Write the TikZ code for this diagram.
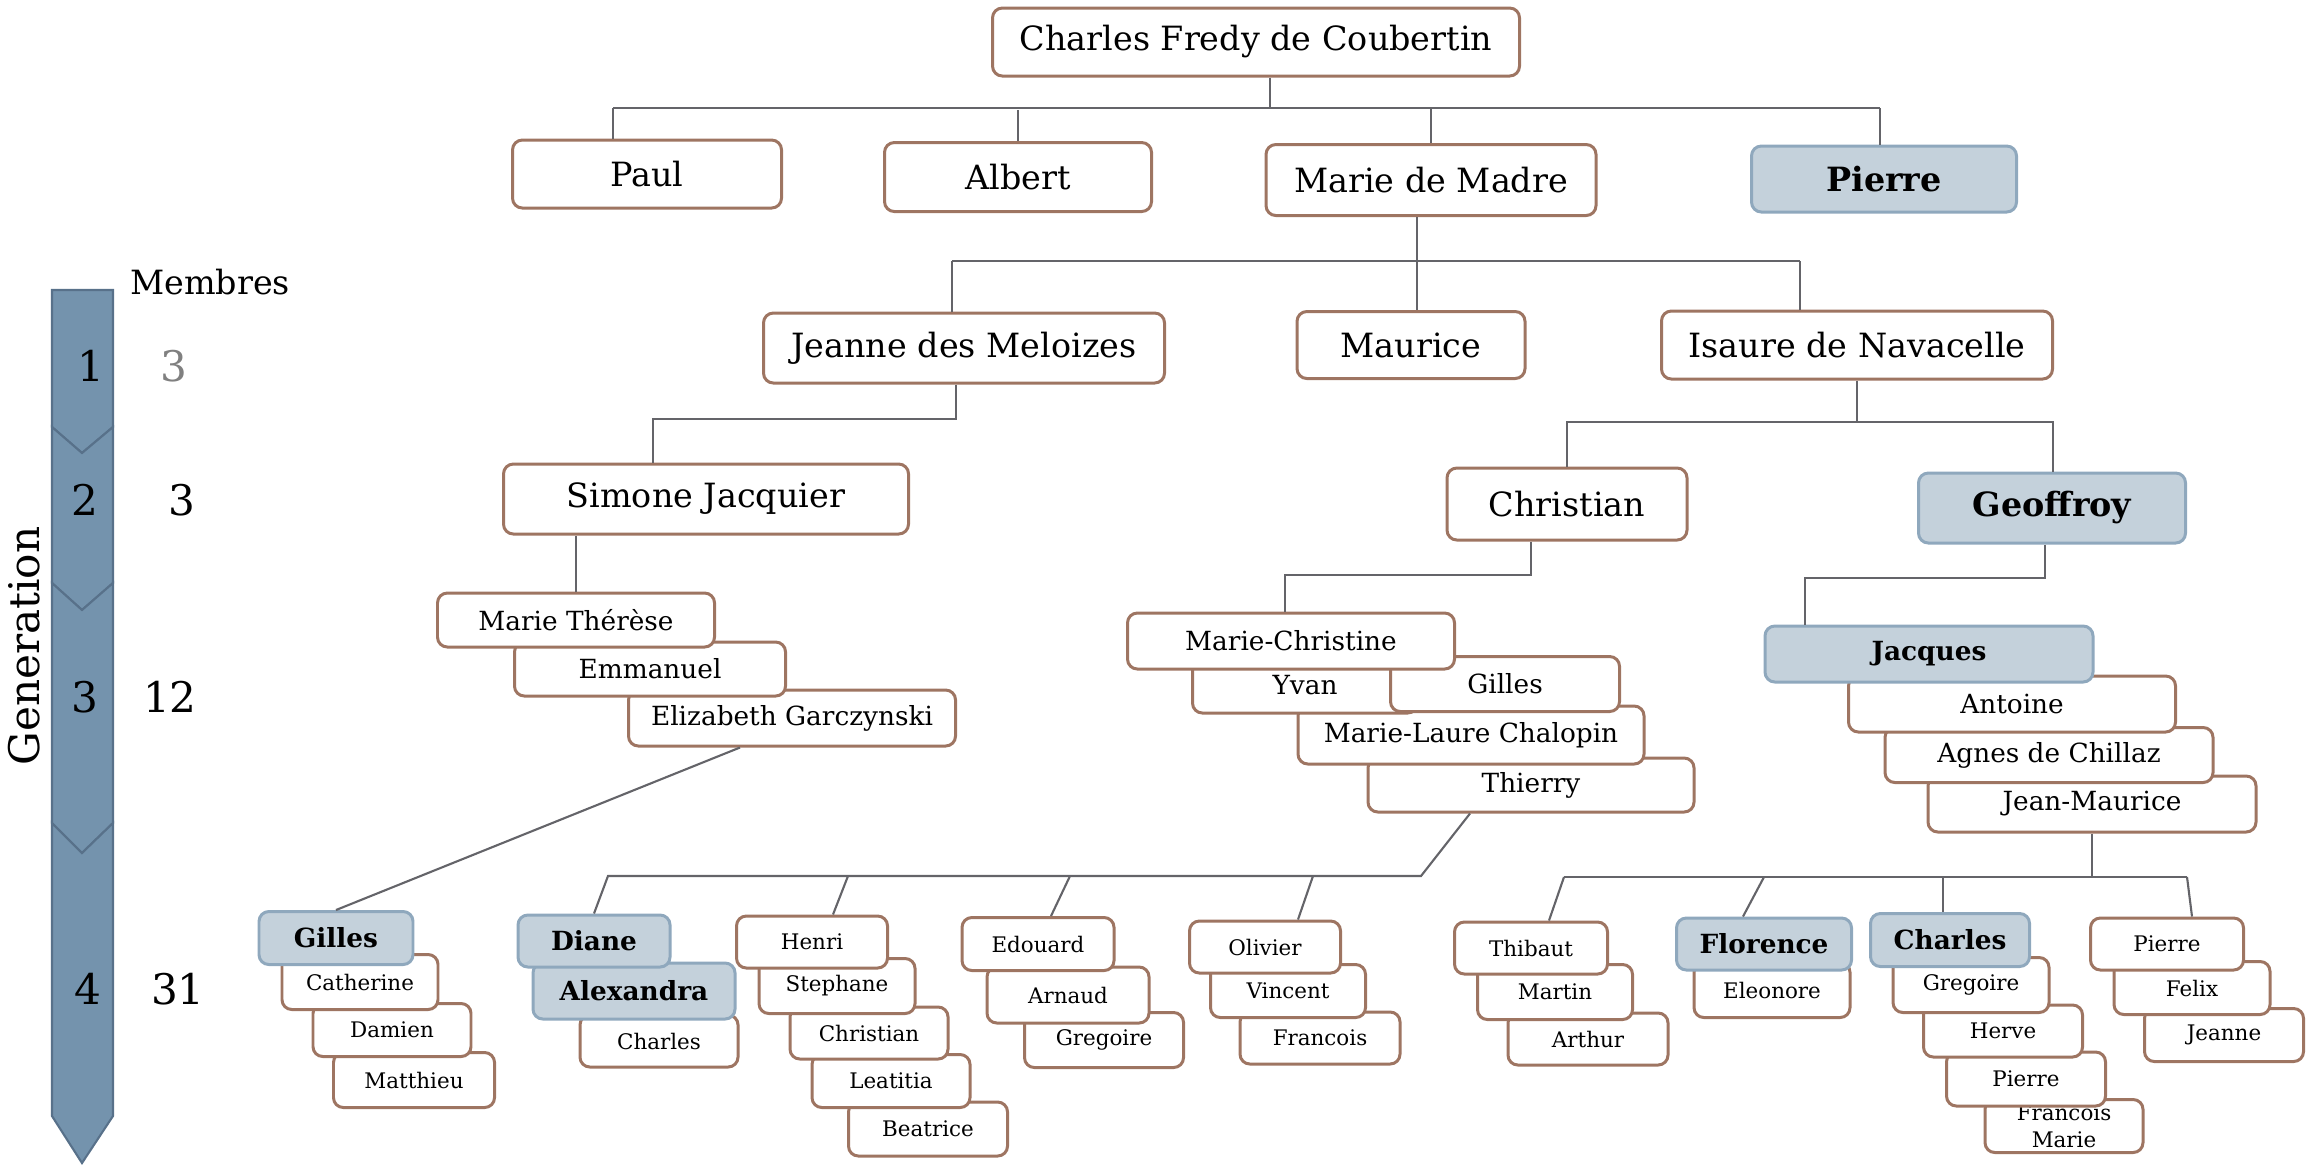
\documentclass[tikz,border=0pt]{standalone}
\usepackage{fontspec}
\setmainfont{DejaVu Serif}
\usetikzlibrary{calc}

\definecolor{boxline}{RGB}{158,117,98}
\definecolor{heirfill}{RGB}{196,209,219}
\definecolor{heirline}{RGB}{143,168,189}
\definecolor{linkgray}{RGB}{100,100,105}
\definecolor{genfill}{RGB}{116,147,173}
\definecolor{genline}{RGB}{88,113,138}

\begin{document}
\begin{tikzpicture}[
    x=0.1mm, y=-0.1mm,
    person/.style={rectangle, draw=boxline, line width=0.85pt, rounded corners=2.8pt, fill=white, align=center, inner sep=0pt},
    heir/.style={person, draw=heirline, fill=heirfill, execute at begin node={\bfseries}},
    wh/.style 2 args={minimum width=#1*0.1mm, minimum height=#2*0.1mm},
    toptext/.style={font=\fontsize{9.5}{11}\selectfont},
    midtext/.style={font=\fontsize{7.5}{8.8}\selectfont},
    leaftext/.style={font=\fontsize{6.1}{7.6}\selectfont},
    link/.style={draw=linkgray, line width=0.6pt},
    chevron/.style={fill=genfill, draw=genline, line width=0.6pt}
]
\useasboundingbox (0,0) rectangle (2310,1167);

% generation arrow
\filldraw[chevron] (52,290) -- (113,290) -- (113,427) -- (82,453) -- (52,427) -- cycle;
\filldraw[chevron] (52,427) -- (82,453) -- (113,427) -- (113,583) -- (82,610) -- (52,583) -- cycle;
\filldraw[chevron] (52,583) -- (82,610) -- (113,583) -- (113,823) -- (82,853) -- (52,823) -- cycle;
\filldraw[chevron] (52,823) -- (82,853) -- (113,823) -- (113,1116) -- (82,1163) -- (52,1116) -- cycle;
\node[rotate=90, font=\fontsize{12}{14}\selectfont] (gen) at (24,646) {Generation};
\node[font=\fontsize{12}{14}\selectfont] (g1) at (91,366) {1};
\node[font=\fontsize{12}{14}\selectfont] (g2) at (85,500) {2};
\node[font=\fontsize{12}{14}\selectfont] (g3) at (85,697) {3};
\node[font=\fontsize{12}{14}\selectfont] (g4) at (88,989) {4};

% members
\node[toptext] (membres) at (210,282) {Membres};
\node[font=\fontsize{12}{14}\selectfont, text=gray] (m1) at (174,366) {3};
\node[font=\fontsize{12}{14}\selectfont] (m2) at (182,500) {3};
\node[font=\fontsize{12}{14}\selectfont] (m3) at (170,697) {12};
\node[font=\fontsize{12}{14}\selectfont] (m4) at (178,989) {31};

% first rows
\node[person, toptext, wh={527}{68}] (root) at (1256,42) {Charles Fredy de Coubertin};
\node[person, toptext, wh={269}{68}] (paul) at (647,174) {Paul};
\node[person, toptext, wh={267}{69}] (albert) at (1018,177) {Albert};
\node[person, toptext, wh={330}{71}] (madre) at (1431,180) {Marie de Madre};
\node[heir, toptext, wh={265}{66}] (pierre) at (1884,179) {Pierre};

\node[person, toptext, wh={401}{70}] (jeanne) at (964,348) {Jeanne des Meloizes};
\node[person, toptext, wh={228}{67}] (maurice) at (1411,345) {Maurice};
\node[person, toptext, wh={391}{68}] (isaure) at (1857,345) {Isaure de Navacelle};

\node[person, toptext, wh={405}{70}] (simone) at (706,499) {Simone Jacquier};
\node[person, toptext, wh={240}{72}] (christian) at (1567,504) {Christian};
\node[heir, toptext, wh={267}{70}] (geoffroy) at (2052,508) {Geoffroy};

% third generation, stacked
\node[person, midtext, wh={327}{56}] (eliz) at (792,718) {Elizabeth Garczynski};
\node[person, midtext, wh={271}{54}] (emmanuel) at (650,669) {Emmanuel};
\node[person, midtext, wh={277}{54}] (mtherese) at (576,620) {Marie Thérèse};

\node[person, midtext, wh={326}{54}] (thierry) at (1531,785) {Thierry};
\node[person, midtext, wh={346}{58}] (mlaure) at (1471,735) {Marie-Laure Chalopin};
\node[person, midtext, wh={225}{56}] (yvan) at (1305,685) {Yvan};
\node[person, midtext, wh={229}{55}] (gillesb) at (1505,684) {Gilles};
\node[person, midtext, wh={327}{56}] (mchristine) at (1291,641) {Marie-Christine};

\node[person, midtext, wh={328}{56}] (jmaurice) at (2092,804) {Jean-Maurice};
\node[person, midtext, wh={328}{55}] (agnes) at (2049,755) {Agnes de Chillaz};
\node[person, midtext, wh={327}{56}] (antoine) at (2012,704) {Antoine};
\node[heir, midtext, wh={328}{56}] (jacques) at (1929,654) {Jacques};

% fourth generation, stacked
\node[person, leaftext, wh={161}{55}] (matthieu) at (414,1080) {Matthieu};
\node[person, leaftext, wh={158}{53}] (damien) at (392,1030) {Damien};
\node[person, leaftext, wh={156}{55}] (catherine) at (360,982) {Catherine};
\node[heir, midtext, wh={154}{53}] (gilles) at (336,938) {Gilles};

\node[person, leaftext, wh={158}{52}] (charlesa) at (659,1041) {Charles};
\node[heir, midtext, wh={202}{56}] (alexandra) at (634,991) {Alexandra};
\node[heir, midtext, wh={152}{52}] (diane) at (594,941) {Diane};

\node[person, leaftext, wh={159}{54}] (beatrice) at (928,1129) {Beatrice};
\node[person, leaftext, wh={158}{53}] (leatitia) at (891,1081) {Leatitia};
\node[person, leaftext, wh={158}{52}] (christianb) at (869,1033) {Christian};
\node[person, leaftext, wh={156}{55}] (stephane) at (837,986) {Stephane};
\node[person, leaftext, wh={151}{52}] (henri) at (812,942) {Henri};

\node[person, leaftext, wh={159}{55}] (gregoirea) at (1104,1040) {Gregoire};
\node[person, leaftext, wh={162}{56}] (arnaud) at (1068,995) {Arnaud};
\node[person, leaftext, wh={152}{53}] (edouard) at (1038,944) {Edouard};

\node[person, leaftext, wh={160}{52}] (francois) at (1320,1038) {Francois};
\node[person, leaftext, wh={155}{53}] (vincent) at (1288,991) {Vincent};
\node[person, leaftext, wh={151}{52}] (olivier) at (1265,947) {Olivier};

\node[person, leaftext, wh={160}{52}] (arthur) at (1588,1039) {Arthur};
\node[person, leaftext, wh={155}{55}] (martin) at (1555,992) {Martin};
\node[person, leaftext, wh={153}{52}] (thibaut) at (1531,948) {Thibaut};

\node[person, leaftext, wh={156}{55}] (eleonore) at (1772,990) {Eleonore};
\node[heir, midtext, wh={175}{52}] (florence) at (1764,944) {Florence};

\node[person, leaftext, wh={158}{53}] (fmarie) at (2064,1126) {Francois\\Marie};
\node[person, leaftext, wh={159}{54}] (pierreb) at (2026,1079) {Pierre};
\node[person, leaftext, wh={159}{52}] (herve) at (2003,1031) {Herve};
\node[person, leaftext, wh={156}{55}] (gregoire) at (1971,985) {Gregoire};
\node[heir, midtext, wh={159}{53}] (charles) at (1950,940) {Charles};

\node[person, leaftext, wh={159}{53}] (jeanneb) at (2224,1035) {Jeanne};
\node[person, leaftext, wh={156}{53}] (felix) at (2192,988) {Felix};
\node[person, leaftext, wh={153}{52}] (pierrec) at (2167,944) {Pierre};

% links
\coordinate (r0) at (1270,108);
\coordinate (p0) at (613,108);
\coordinate (q0) at (1880,108);
\draw[link] (root.south -| r0) -- (r0);
\draw[link] (p0) -- (q0);
\draw[link] (p0) -- (paul.north -| p0);
\draw[link] (albert.north) -- ++(0,-31);
\draw[link] (madre.north) -- (madre.north |- r0);
\draw[link] (q0) -- (pierre.north -| q0);

\coordinate (m1) at (1417,261);
\coordinate (p1) at (952,261);
\coordinate (q1) at (1800,261);
\draw[link] (madre.south -| m1) -- (maurice.north -| m1);
\draw[link] (p1) -- (q1);
\draw[link] (p1) -- (jeanne.north -| p1);
\draw[link] (q1) -- (isaure.north -| q1);

\coordinate (p2) at (653,419);
\coordinate (q2) at (956,419);
\draw[link] (jeanne.south -| q2) -- (q2) -- (p2) -- (simone.north -| p2);

\coordinate (p3) at (1567,422);
\coordinate (q3) at (2053,422);
\draw[link] (isaure.south) -- (isaure.south |- p3);
\draw[link] (christian.north) -- (p3) -- (q3) -- (geoffroy.north -| q3);

\draw[link] (simone.south -| mtherese.north) -- (mtherese.north);

\coordinate (p4) at (1285,575);
\coordinate (q4) at (1531,575);
\draw[link] (christian.south -| q4) -- (q4) -- (p4) -- (mchristine.north -| p4);

\coordinate (p5) at (1805,578);
\coordinate (q5) at (2045,578);
\draw[link] (geoffroy.south -| q5) -- (q5) -- (p5) -- (jacques.north -| p5);

\draw[link] ($(eliz.south)+(-52,0)$) -- (gilles.north);

\coordinate (p6) at (608,876);
\coordinate (q6) at (1421,876);
\coordinate (t1) at (848,876);
\coordinate (t2) at (1070,876);
\coordinate (t3) at (1313,876);
\draw[link] ($(thierry.south)+(-61,0)$) -- (q6) -- (p6) -- (diane.north);
\draw[link] (t1) -- ($(henri.north)+(21,0)$);
\draw[link] (t2) -- ($(edouard.north)+(13,0)$);
\draw[link] (t3) -- ($(olivier.north)+(33,0)$);

\coordinate (p7) at (1564,877);
\coordinate (q7) at (2187,877);
\coordinate (t4) at (1764,877);
\coordinate (t5) at (1943,877);
\draw[link] (jmaurice.south) -- (jmaurice.south |- p7);
\draw[link] (p7) -- (q7);
\draw[link] (p7) -- ($(thibaut.north)+(18,0)$);
\draw[link] (t4) -- ($(florence.north)+(-21,0)$);
\draw[link] (t5) -- (charles.north -| t5);
\draw[link] (q7) -- ($(pierrec.north)+(25,0)$);
\end{tikzpicture}
\end{document}
